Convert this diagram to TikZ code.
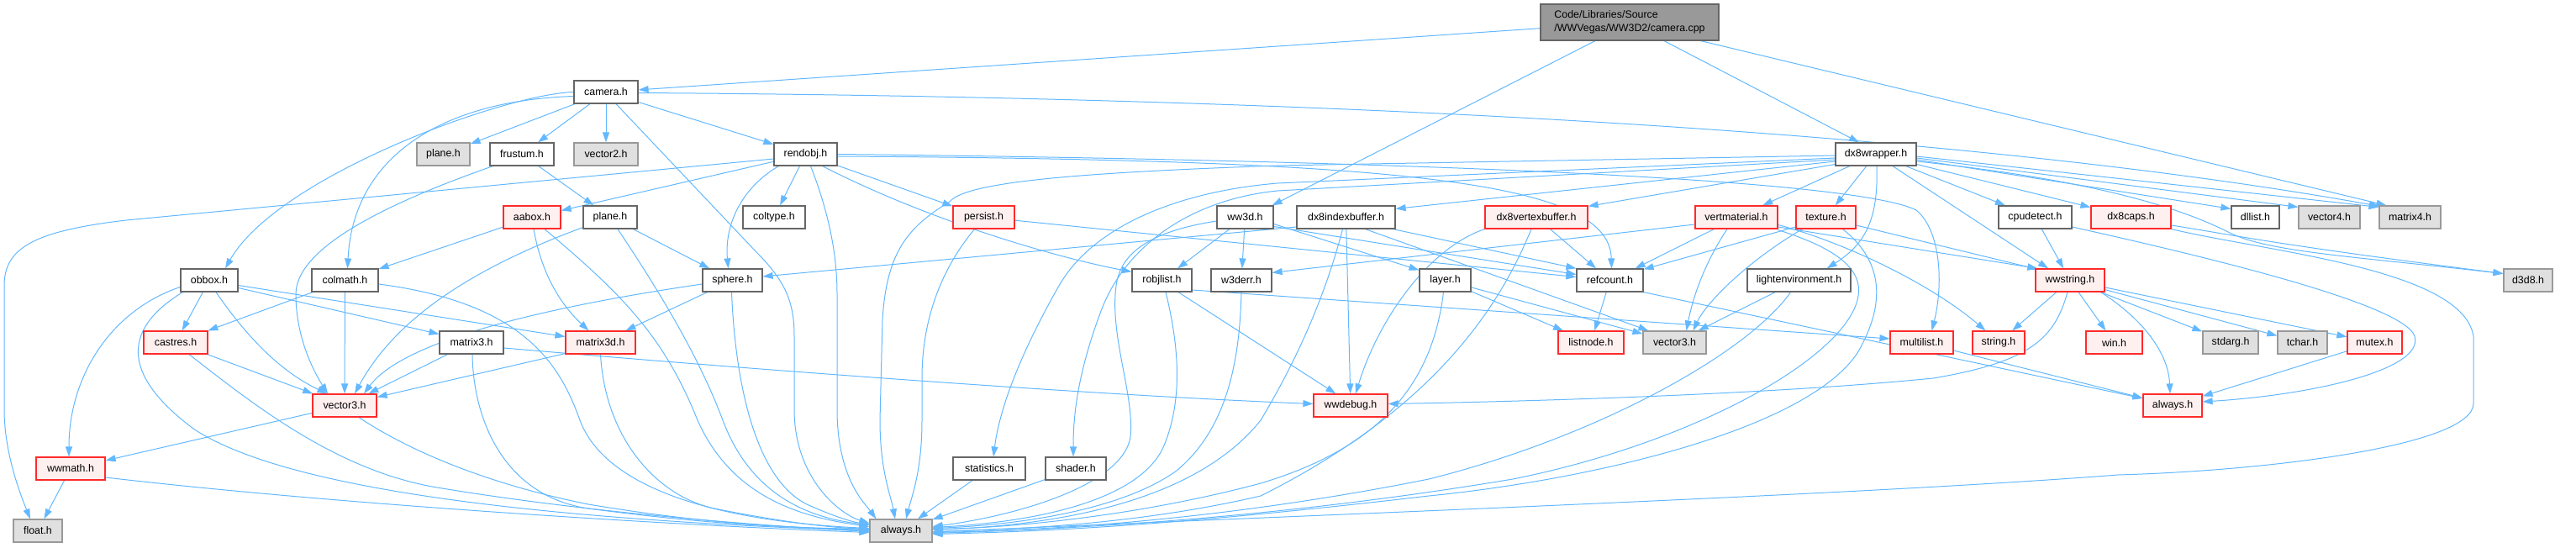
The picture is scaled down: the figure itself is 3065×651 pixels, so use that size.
\documentclass[tikz,border=0pt]{standalone}
\usepackage{fontspec}
\setmainfont{Liberation Sans}
\usetikzlibrary{arrows.meta,calc}
\definecolor{eb}{RGB}{99,184,255}
\definecolor{bw}{HTML}{666666}
\definecolor{bg}{HTML}{999999}
\definecolor{fg}{HTML}{E0E0E0}
\definecolor{br}{HTML}{FF2A2A}
\definecolor{fr}{HTML}{FFF0F0}
\definecolor{rootf}{HTML}{999999}
\pgfdeclarelayer{edgelayer}
\pgfsetlayers{edgelayer,main}
\tikzset{
 box/.style={rectangle, minimum height=27pt, inner sep=0pt, line width=1.2pt, font=\fontsize{12.4}{16}\selectfont},
 wn/.style={box, draw=bw, fill=white},
 gn/.style={box, draw=bg, fill=fg},
 rn/.style={box, draw=br, fill=fr},
 ed/.style={draw=eb, line width=1pt, -{Triangle[length=12pt,width=8pt]}},
}
\begin{document}
\begin{tikzpicture}[x=1pt,y=-1pt]
\useasboundingbox (0,0) rectangle (3065,651);
\node[box, draw=bw, fill=rootf, minimum width=212, minimum height=43, align=left] (root) at (1939,26.5) {Code/Libraries/Source\\/WWVegas/WW3D2/camera.cpp};
\node[wn,minimum width=76] (camera) at (721,109.5) {camera.h};
\node[gn,minimum width=63] (planeg) at (527.5,183.5) {plane.h};
\node[wn,minimum width=76] (frustum) at (621,183.5) {frustum.h};
\node[gn,minimum width=76] (vector2) at (721,183.5) {vector2.h};
\node[wn,minimum width=75] (rendobj) at (958.5,183.5) {rendobj.h};
\node[wn,minimum width=96] (dx8wrapper) at (2232,183.5) {dx8wrapper.h};
\node[rn,minimum width=68] (aabox) at (633,258.5) {aabox.h};
\node[wn,minimum width=64] (plane) at (726,258.5) {plane.h};
\node[wn,minimum width=74] (coltype) at (921,258.5) {coltype.h};
\node[rn,minimum width=73] (persist) at (1170.5,258.5) {persist.h};
\node[wn,minimum width=67] (ww3d) at (1481.5,258.5) {ww3d.h};
\node[wn,minimum width=117] (dx8ib) at (1601.5,258.5) {dx8indexbuffer.h};
\node[rn,minimum width=122] (dx8vb) at (1828,258.5) {dx8vertexbuffer.h};
\node[rn,minimum width=98] (vertmat) at (2066,258.5) {vertmaterial.h};
\node[rn,minimum width=71] (texture) at (2172.5,258.5) {texture.h};
\node[wn,minimum width=87] (cpudetect) at (2421.5,258.5) {cpudetect.h};
\node[rn,minimum width=95] (dx8caps) at (2535.5,258.5) {dx8caps.h};
\node[wn,minimum width=57] (dllist) at (2683.5,258.5) {dllist.h};
\node[gn,minimum width=73] (vector4) at (2771.5,258.5) {vector4.h};
\node[gn,minimum width=73] (matrix4) at (2867.5,258.5) {matrix4.h};
\node[wn,minimum width=68] (obbox) at (249,333.5) {obbox.h};
\node[wn,minimum width=79] (colmath) at (410.5,333.5) {colmath.h};
\node[wn,minimum width=71] (sphere) at (871.5,333.5) {sphere.h};
\node[wn,minimum width=71] (robjlist) at (1382.5,333.5) {robjlist.h};
\node[wn,minimum width=72] (w3derr) at (1477,333.5) {w3derr.h};
\node[wn,minimum width=61] (layer) at (1719.5,333.5) {layer.h};
\node[wn,minimum width=79] (refcount) at (1915.5,333.5) {refcount.h};
\node[wn,minimum width=123] (lightenv) at (2140.5,333.5) {lightenvironment.h};
\node[rn,minimum width=82] (wwstring) at (2463,333.5) {wwstring.h};
\node[gn,minimum width=58] (d3d8) at (3008,333.5) {d3d8.h};
\node[rn,minimum width=76] (castres) at (209,407.5) {castres.h};
\node[wn,minimum width=76] (matrix3) at (561,407.5) {matrix3.h};
\node[rn,minimum width=83] (matrix3d) at (714.5,407.5) {matrix3d.h};
\node[rn,minimum width=78] (listnode) at (1893,407.5) {listnode.h};
\node[gn,minimum width=75] (vector3g) at (1992.5,407.5) {vector3.h};
\node[rn,minimum width=75] (multilist) at (2286.5,407.5) {multilist.h};
\node[rn,minimum width=62] (string) at (2378,407.5) {string.h};
\node[rn,minimum width=67] (win) at (2515.5,407.5) {win.h};
\node[gn,minimum width=66] (stdarg) at (2654,407.5) {stdarg.h};
\node[gn,minimum width=59] (tchar) at (2739.5,407.5) {tchar.h};
\node[rn,minimum width=65] (mutex) at (2825.5,407.5) {mutex.h};
\node[rn,minimum width=76] (vector3) at (410,482.5) {vector3.h};
\node[rn,minimum width=88] (wwdebug) at (1607,482.5) {wwdebug.h};
\node[rn,minimum width=70] (alwaysr) at (2585,482.5) {always.h};
\node[rn,minimum width=82] (wwmath) at (84,557.5) {wwmath.h};
\node[wn,minimum width=86] (statistics) at (1177,557.5) {statistics.h};
\node[wn,minimum width=72] (shader) at (1280,557.5) {shader.h};
\node[gn,minimum width=58] (float) at (45,631.5) {float.h};
\node[gn,minimum width=74] (always) at (1072,631.5) {always.h};

\begin{pgfonlayer}{edgelayer}
% root
\draw[ed] (root) -- (camera);
\draw[ed] ($(root.south)+(-41,0)$) -- ($(ww3d.north east)+(-2,0)$);
\draw[ed] ($(root.south)+(41,0)$) -- ($(dx8wrapper.north)+(-20,0)$);
\draw[ed] ($(root.south east)+(-22,0)$) -- ($(matrix4.north west)+(9,0)$);
% camera
\draw[ed] (camera.west) .. controls (600,112) and (330,210) .. ($(obbox.north)+(19,0)$);
\draw[ed] ($(camera.west)+(0,5)$) .. controls (520,120) and (420,190) .. ($(colmath.north)+(3,0)$);
\draw[ed] (camera) -- (planeg);
\draw[ed] (camera) -- (frustum);
\draw[ed] (camera) -- (vector2);
\draw[ed] (camera) -- (rendobj);
\draw[ed] ($(camera.south)+(12,0)$) -- (900,300) .. controls (935,335) and (945,360) .. (945,400) -- (945,487) .. controls (945,570) and (1000,612) .. ($(always.west)+(0,-9)$);
\draw[ed] ($(camera.east)+(0,1)$) .. controls (1500,115) and (2300,150) .. ($(matrix4.north west)+(1,1)$);
% frustum
\draw[ed] ($(frustum.south west)+(4,0)$) .. controls (480,235) and (352,290) .. (352,350) .. controls (352,400) and (372,440) .. ($(vector3.north)+(-20,0)$);
\draw[ed] (frustum) -- (plane);
% rendobj
\draw[ed] ($(rendobj.west)+(0,5.5)$) -- (150,262) .. controls (40,275) and (5,295) .. (5,340) -- (5,487) .. controls (5,540) and (25,590) .. ($(float.north)+(-9,0)$);
\draw[ed] (rendobj) -- (aabox);
\draw[ed] (rendobj) -- (coltype);
\draw[ed] ($(rendobj.south west)+(6,0)$) .. controls (880,225) and (862,270) .. ($(sphere.north)+(-5,0)$);
\draw[ed] ($(rendobj.south)+(6,0)$) .. controls (985,250) and (996,300) .. (996,350) -- (996,487) .. controls (996,570) and (1030,600) .. ($(always.north west)+(8,0)$);
\draw[ed] (rendobj) -- (persist);
\draw[ed] ($(rendobj.south east)+(-18,0)$) .. controls (1100,260) and (1250,305) .. ($(robjlist.north west)+(0,4)$);
\draw[ed] ($(rendobj.east)+(0,2.5)$) .. controls (1700,190) and (1915,220) .. ($(refcount.north)+(2,0)$);
\draw[ed] (rendobj.east) .. controls (1600,190) and (2200,210) .. (2280,250) .. controls (2310,275) and (2312,340) .. ($(multilist.north)+(12,0)$);
% aabox
\draw[ed] (aabox) -- (colmath);
\draw[ed] ($(aabox.south)+(2,0)$) .. controls (645,330) and (670,365) .. ($(matrix3d.north)+(-14,0)$);
\draw[ed] ($(aabox.south)+(15,0)$) .. controls (740,350) and (790,400) .. (830,500) .. controls (870,590) and (950,615) .. ($(always.west)+(0,-5)$);
% plane
\draw[ed] ($(plane.south west)+(0,-2)$) .. controls (560,320) and (470,380) .. ($(vector3.north)+(12,0)$);
\draw[ed] (plane) -- (sphere);
\draw[ed] ($(plane.south)+(9,0)$) .. controls (780,340) and (830,420) .. (860,500) .. controls (890,580) and (950,615) .. ($(always.west)+(0,-7)$);
% colmath
\draw[ed] (colmath) -- (castres);
\draw[ed] (colmath) -- (vector3);
\draw[ed] ($(colmath.east)+(0,4.5)$) .. controls (620,360) and (665,430) .. (690,500) .. controls (720,580) and (850,620) .. ($(always.west)+(0,-3)$);
% obbox
\draw[ed] ($(obbox.west)+(0,8)$) .. controls (130,370) and (82,450) .. ($(wwmath.north)+(-2,0)$);
\draw[ed] (obbox) -- (castres);
\draw[ed] ($(obbox.south)+(8,0)$) .. controls (300,410) and (340,445) .. ($(vector3.north west)+(18,0)$);
\draw[ed] ($(obbox.south west)+(3,0)$) .. controls (140,395) and (150,450) .. (230,510) .. controls (350,590) and (700,620) .. (always.west);
\draw[ed] ($(obbox.east)+(0,9)$) -- ($(matrix3.west)+(0,-10)$);
\draw[ed] ($(obbox.east)+(0,6)$) -- ($(matrix3d.west)+(0,-7)$);
% castres
\draw[ed] (castres) -- (vector3);
\draw[ed] ($(castres.south)+(16,0)$) .. controls (300,480) and (400,560) .. (520,580) .. controls (700,610) and (900,625) .. ($(always.west)+(0,1)$);
% vector3
\draw[ed] (vector3) -- (wwmath);
\draw[ed] ($(vector3.south)+(17,0)$) .. controls (500,545) and (600,580) .. (700,600) .. controls (850,625) and (950,628) .. ($(always.west)+(0,-1)$);
% wwmath
\draw[ed] (wwmath) -- (float);
\draw[ed] ($(wwmath.east)+(0,10.5)$) .. controls (400,600) and (800,625) .. ($(always.west)+(0,2)$);
% matrix3
\draw[ed] (matrix3) -- (vector3);
\draw[ed] ($(matrix3.east)+(0,6.5)$) .. controls (900,440) and (1300,470) .. ($(wwdebug.west)+(0,-2)$);
\draw[ed] ($(matrix3.south)+(1,0)$) .. controls (563,500) and (600,590) .. (700,605) .. controls (850,625) and (950,628) .. ($(always.west)+(0,-2)$);
% matrix3d
\draw[ed] ($(matrix3d.south west)+(0,-1)$) -- ($(vector3.east)+(0,-10)$);
\draw[ed] (matrix3d.south) .. controls (720,520) and (780,590) .. (850,605) .. controls (950,625) and (1000,628) .. ($(always.west)+(0,-2)$);
% sphere
\draw[ed] (sphere) -- (matrix3d);
\draw[ed] ($(sphere.west)+(0,4.5)$) .. controls (650,365) and (480,405) .. ($(vector3.north)+(23,0)$);
\draw[ed] ($(sphere.south)+(-1,0)$) .. controls (875,460) and (900,570) .. (960,600) .. controls (1000,618) and (1020,622) .. ($(always.west)+(0,-8)$);
% persist
\draw[ed] ($(persist.south)+(-11,0)$) .. controls (1120,320) and (1097,380) .. (1097,450) -- (1097,500) .. controls (1097,560) and (1085,590) .. ($(always.north)+(6,0)$);
\draw[ed] (persist) -- (refcount);
% ww3d
\draw[ed] ($(ww3d.west)+(0,4.5)$) .. controls (1370,275) and (1333,300) .. (1328,340) .. controls (1320,400) and (1350,470) .. (1345,520) .. controls (1335,580) and (1200,615) .. ($(always.east)+(0,-5)$);
\draw[ed] (ww3d) -- (robjlist);
\draw[ed] (ww3d) -- (w3derr);
\draw[ed] ($(ww3d.east)+(0,8)$) -- ($(layer.north west)+(0,2)$);
\draw[ed] ($(ww3d.east)+(0,11)$) -- ($(refcount.west)+(0,-7)$);
% dx8indexbuffer
\draw[ed] ($(dx8ib.west)+(0,11.5)$) -- ($(sphere.east)+(0,-4.5)$);
\draw[ed] ($(dx8ib.south)+(-4,0)$) .. controls (1585,320) and (1560,400) .. (1500,500) .. controls (1420,600) and (1250,625) .. ($(always.east)+(0,-1)$);
\draw[ed] (dx8ib) -- (wwdebug);
\draw[ed] ($(dx8ib.south east)+(-3,0)$) -- (refcount.north west);
\draw[ed] ($(dx8ib.south)+(23,0)$) -- ($(vector3g.north west)+(7,0)$);
% dx8vertexbuffer
\draw[ed] (dx8vb.south west) .. controls (1700,295) and (1640,380) .. ($(wwdebug.north)+(6,0)$);
\draw[ed] ($(dx8vb.south)+(-6,0)$) .. controls (1790,350) and (1720,480) .. (1500,590) .. controls (1350,625) and (1200,630) .. ($(always.east)+(0,1)$);
\draw[ed] (dx8vb) -- (refcount);
% layer
\draw[ed] (layer) -- (listnode);
\draw[ed] (layer) -- (vector3g);
\draw[ed] ($(layer.south)+(-2,0)$) .. controls (1705,450) and (1650,530) .. (1500,575) .. controls (1350,615) and (1200,628) .. ($(always.east)+(0,-2)$);
% refcount
\draw[ed] (refcount) -- (listnode);
\draw[ed] (refcount.south east) -- ($(alwaysr.west)+(0,-8.5)$);
% robjlist
\draw[ed] ($(robjlist.east)+(0,11.5)$) -- ($(multilist.west)+(0,-4.5)$);
\draw[ed] ($(robjlist.south)+(19.5,0)$) -- ($(wwdebug.north west)+(27,0)$);
\draw[ed] ($(robjlist.south)+(4.5,0)$) .. controls (1400,400) and (1410,470) .. (1385,530) .. controls (1360,590) and (1250,620) .. ($(always.east)+(0,-4)$);
% w3derr
\draw[ed] (w3derr.south) .. controls (1475,430) and (1460,510) .. (1400,560) .. controls (1330,610) and (1200,625) .. ($(always.east)+(0,-3)$);
% lightenvironment
\draw[ed] (lightenv) -- (vector3g);
\draw[ed] ($(lightenv.south)+(-10,0)$) .. controls (2080,420) and (1900,520) .. (1700,570) .. controls (1500,610) and (1300,630) .. ($(always.east)+(0,2)$);
% vertmaterial
\draw[ed] ($(vertmat.west)+(0,8.5)$) -- ($(w3derr.north east)+(0,5)$);
\draw[ed] ($(vertmat.south west)+(23,0)$) -- ($(refcount.north east)+(-10,0)$);
\draw[ed] ($(vertmat.south)+(-11,0)$) .. controls (2030,310) and (2015,350) .. ($(vector3g.north)+(14,0)$);
\draw[ed] ($(vertmat.east)+(0,11.5)$) -- ($(wwstring.north west)+(3,0)$);
\draw[ed] ($(vertmat.east)+(0,9)$) .. controls (2200,290) and (2300,340) .. ($(string.north west)+(16,0)$);
\draw[ed] ($(vertmat.south east)+(0,1)$) .. controls (2200,300) and (2225,330) .. (2205,370) .. controls (2170,440) and (2000,530) .. (1800,570) .. controls (1500,620) and (1250,630) .. ($(always.east)+(0,3)$);
% texture
\draw[ed] ($(texture.west)+(0,11.5)$) -- ($(refcount.north east)+(0,1)$);
\draw[ed] ($(texture.south west)+(8,0)$) .. controls (2080,310) and (2030,360) .. ($(vector3g.north)+(22,0)$);
\draw[ed] ($(texture.east)+(0,9.5)$) -- ($(wwstring.north west)+(3,1)$);
\draw[ed] ($(texture.south)+(20,0)$) .. controls (2240,310) and (2245,360) .. (2210,420) .. controls (2150,510) and (1900,570) .. (1700,590) .. controls (1400,625) and (1250,632) .. ($(always.east)+(0,4)$);
% cpudetect
\draw[ed] (cpudetect) -- (wwstring);
\draw[ed] ($(cpudetect.east)+(0,11.5)$) .. controls (2600,300) and (2860,360) .. (2873,400) .. controls (2885,440) and (2750,470) .. ($(alwaysr.east)+(0,-4.5)$);
% dx8caps
\draw[ed] ($(dx8caps.east)+(0,9.5)$) .. controls (2660,280) and (2700,290) .. ($(d3d8.west)+(0,-8)$);
\draw[ed] (dx8caps.south east) .. controls (2700,300) and (2930,320) .. (2943,400) -- (2943,480) .. controls (2943,530) and (2700,560) .. (2520,565) .. controls (2200,590) and (1500,615) .. ($(always.east)+(0,1.5)$);
% dx8wrapper
\draw[ed] (dx8wrapper) -- (vertmat);
\draw[ed] (dx8wrapper) -- (texture);
\draw[ed] ($(dx8wrapper.south)+(1,0)$) .. controls (2235,260) and (2220,290) .. ($(lightenv.north east)+(-29,0)$);
\draw[ed] ($(dx8wrapper.south)+(20,0)$) -- ($(wwstring.north)+(-26,0)$);
\draw[ed] (dx8wrapper) -- (cpudetect);
\draw[ed] (dx8wrapper) -- (dx8caps);
\draw[ed] ($(dx8wrapper.east)+(0,6.5)$) -- ($(dllist.north west)+(0,4)$);
\draw[ed] ($(dx8wrapper.east)+(0,4.5)$) -- ($(vector4.north west)+(0,2)$);
\draw[ed] ($(dx8wrapper.east)+(0,2.5)$) -- ($(matrix4.north west)+(0,2)$);
\draw[ed] ($(dx8wrapper.east)+(0,8.5)$) .. controls (2500,215) and (2600,250) .. (2653,277) .. controls (2700,300) and (2800,305) .. ($(d3d8.west)+(0,-8)$);
\draw[ed] ($(dx8wrapper.west)+(0,8.5)$) -- ($(dx8ib.north east)+(0,4)$);
\draw[ed] ($(dx8wrapper.west)+(0,12)$) -- ($(dx8vb.north east)+(0,1)$);
\draw[ed] ($(dx8wrapper.west)+(0,4.5)$) -- (1520,218) .. controls (1400,228) and (1300,270) .. (1260,340) .. controls (1220,410) and (1190,480) .. ($(statistics.north)+(5,0)$);
\draw[ed] ($(dx8wrapper.west)+(0,6.5)$) -- (1520,227) .. controls (1420,237) and (1340,290) .. (1310,370) .. controls (1280,450) and (1277,500) .. ($(shader.north)+(-3,0)$);
\draw[ed] ($(dx8wrapper.west)+(0,1.5)$) -- (1520,197) .. controls (1300,205) and (1150,215) .. (1130,240) .. controls (1080,270) and (1055,300) .. (1050,380) -- (1047,500) .. controls (1047,560) and (1060,590) .. ($(always.north)+(-7,0)$);
% wwstring
\draw[ed] (wwstring) -- (string);
\draw[ed] (wwstring) -- (win);
\draw[ed] (wwstring) -- (stdarg);
\draw[ed] (wwstring) -- (tchar);
\draw[ed] (wwstring) -- (mutex);
\draw[ed] ($(wwstring.south east)+(-5,0)$) .. controls (2550,380) and (2580,420) .. ($(alwaysr.north)+(-3,0)$);
\draw[ed] ($(wwstring.south)+(-3,0)$) .. controls (2445,400) and (2420,430) .. (2300,450) .. controls (2100,470) and (1800,478) .. ($(wwdebug.east)+(0,-2)$);
% others
\draw[ed] (mutex) -- (alwaysr);
\draw[ed] (multilist) -- (alwaysr);
\draw[ed] (statistics) -- (always);
\draw[ed] (shader) -- (always);
\end{pgfonlayer}
\end{tikzpicture}
\end{document}
